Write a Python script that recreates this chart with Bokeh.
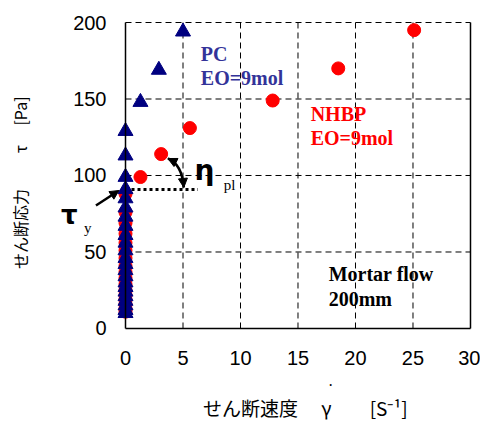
from bokeh.plotting import figure
from bokeh.models import Range1d, FixedTicker, Label, Arrow, NormalHead
from bokeh.embed import file_html
from bokeh.resources import INLINE

# ---- data ----
pc_x = [0.0] * 23 + [1.3, 2.9, 5.0]
pc_y = [10, 12, 15, 18, 21, 24, 27, 30, 34, 38, 42, 46, 51, 56, 61, 67, 73, 79, 85, 91, 99, 113, 129,
        148, 169, 194]
nh_x = [0.0] * 17 + [1.3, 3.1, 5.6, 12.8, 18.5, 25.1]
nh_y = [11, 13, 16, 19, 22, 25, 29, 33, 37, 41, 46, 51, 56, 62, 69, 76, 88,
        99, 114, 131, 149, 170, 195]
x_ticks = [0, 5, 10, 15, 20, 25, 30]
y_ticks = [0, 50, 100, 150, 200]
x_lim = (0, 30)
y_lim = (0, 200)
yield_stress = 90.8
x_label = "　  せん断速度　  γ　　[S⁻¹]"
y_label = "  せん断応力　　 τ　   [Pa]"

p = figure(width=480, height=422, output_backend="svg", toolbar_location=None,
           x_range=Range1d(-10.87, 30.87), y_range=Range1d(-61.44, 214.38),
           min_border=0, min_border_left=0, min_border_right=0,
           min_border_top=0, min_border_bottom=0)
p.outline_line_color = None
p.background_fill_color = "white"
p.xgrid.grid_line_color = None
p.ygrid.grid_line_color = None

xa = p.xaxis[0]
ya = p.yaxis[0]
xa.fixed_location = 0
ya.fixed_location = 0
xa.bounds = x_lim
ya.bounds = y_lim
for ax in (xa, ya):
    ax.major_tick_line_color = None
    ax.minor_tick_line_color = None
    ax.axis_line_color = "black"
    ax.axis_line_width = 1.5
    ax.major_label_text_font = "Liberation Sans"
    ax.major_label_text_font_size = "20px"
    ax.major_label_text_color = "black"
    ax.axis_label_text_font = "Noto Sans CJK JP"
    ax.axis_label_text_font_style = "normal"
    ax.axis_label_text_color = "black"
xa.axis_label_text_font_size = "19px"
ya.axis_label_text_font_size = "16px"
xa.ticker = FixedTicker(ticks=x_ticks)
ya.ticker = FixedTicker(ticks=y_ticks)
xa.axis_label = x_label
ya.axis_label = y_label
xa.major_label_standoff = 17
xa.axis_label_standoff = 25
ya.major_label_standoff = 13
ya.axis_label_standoff = 38

# dashed grid (inside the data box only)
gx = [t for t in x_ticks if t not in x_lim]
gy = [t for t in y_ticks if t != y_lim[0]]
p.segment(x0=gx, y0=[y_lim[0]] * len(gx), x1=gx, y1=[y_lim[1]] * len(gx),
          line_color="black", line_width=1, line_dash="6 4")
p.segment(x0=[x_lim[0]] * len(gy), y0=gy, x1=[x_lim[1]] * len(gy), y1=gy,
          line_color="black", line_width=1, line_dash="6 4")
# right border
p.segment(x0=[x_lim[1]], y0=[y_lim[0]], x1=[x_lim[1]], y1=[y_lim[1]],
          line_color="black", line_width=1.5)

# dotted yield line
p.line([0, 6.3], [yield_stress, yield_stress], line_color="black", line_width=3, line_dash="3 3")

# markers
p.scatter(nh_x, nh_y, marker="circle", size=13, fill_color="#ff0000", line_color="#ff0000")
p.scatter(pc_x, pc_y, marker="triangle", size=15, fill_color="#000080", line_color="#000080")

# curved double arrow
head = dict(size=9, fill_color="black", line_color="black")
p.quadratic(x0=[3.69], y0=[111.1], x1=[5.07], y1=[92.2], cx=[4.9], cy=[107.5],
            line_color="black", line_width=2.5)
p.add_layout(Arrow(x_start=4.2, y_start=109.2, x_end=3.69, y_end=111.1,
                   end=NormalHead(**head), line_color="black", line_width=2.5))
p.add_layout(Arrow(x_start=5.02, y_start=96.0, x_end=5.07, y_end=92.2,
                   end=NormalHead(**head), line_color="black", line_width=2.5))

# straight arrow to tau_y
p.add_layout(Arrow(x_start=-2.57, y_start=80.4, x_end=-0.57, y_end=90.2,
                   end=NormalHead(**head), line_color="black", line_width=2.5))

def lab(x, y, t, color, size, font="Liberation Serif", style="bold"):
    p.add_layout(Label(x=x, y=y, text=t, text_color=color, text_font=font,
                       text_font_size=size, text_font_style=style,
                       text_align="left", text_baseline="alphabetic"))

lab(6.55, 179.7, "PC", "#333399", "20px")
lab(6.55, 164.0, "EO=9mol", "#333399", "20px")
lab(16.1, 140.5, "NHBP", "#ff0000", "20px")
lab(16.1, 124.2, "EO=9mol", "#ff0000", "20px")
lab(17.67, 35.3, "Mortar flow", "black", "20px")
lab(17.67, 19.0, "200mm", "black", "20px")
lab(6.0, 103.3, "η", "black", "28px", font="DejaVu Sans")
lab(8.55, 93.5, "pl", "black", "15px", style="normal")
lab(-5.6, 74.5, "τ", "black", "26px", font="DejaVu Sans")
lab(-3.6, 65.4, "y", "black", "15px", style="normal")
lab(17.6, -37, "·", "black", "16px", style="normal")

open("out.html", "w").write(file_html(p, INLINE))
